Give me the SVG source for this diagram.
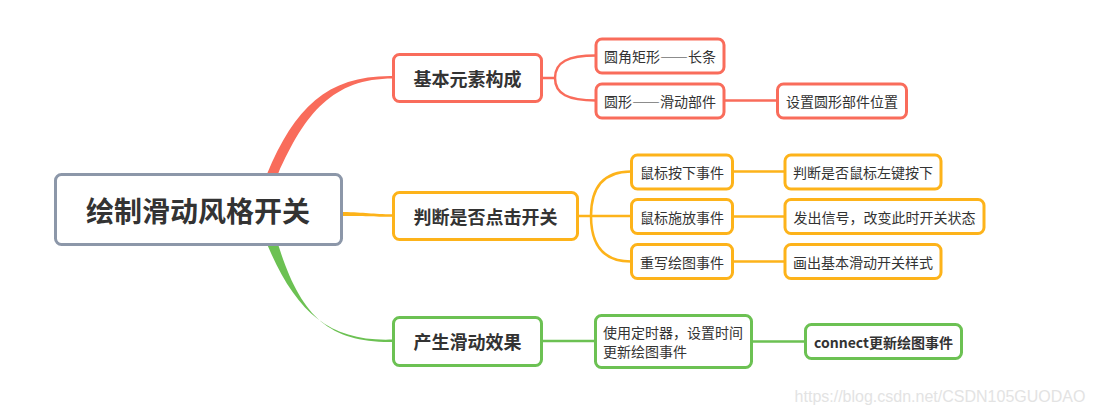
<svg xmlns="http://www.w3.org/2000/svg" width="1095" height="415" viewBox="0 0 1095 415">
<style>
text{font-family:"Noto Sans CJK SC","Noto Sans",sans-serif;fill:#333;text-anchor:middle;dominant-baseline:central}
.box{fill:#fff;stroke-width:3}
.r{stroke:#F96C5B}
.y{stroke:#FDB31A}
.g{stroke:#6CC153}
.line{fill:none;stroke-width:2.5}
.sub{font-size:14px}
.br{font-size:18px;font-weight:bold}
.fw{font-feature-settings:"fwid" 1}
</style>
<rect width="1095" height="415" fill="#fff"/>
<g id="connectors">
<path d="M267 174 C295 107 328 75 393 76 L393 78.5 C333 78.5 305 113 278 174 Z" fill="#F96C5B"/>
<path d="M343 212 C365 212.5 372 214 393 214.3 L393 216.8 C372 216.8 365 216 343 216 Z" fill="#FDB31A"/>
<path d="M267 244 C296 313 330 342 393 339.5 L393 342 C328 343 300 315 278 244 Z" fill="#6CC153"/>
<path class="line r" d="M542 78 H555 M555 78 C555 62 568 55.5 596 55.5 M555 78 C555 94 568 100.5 596 100.5 M724 100.5 H777"/>
<path class="line y" d="M578 216 H591 M591 216 C591 185 605 171.5 631 171.5 M591 216 H631 M591 216 C591 247 605 261.5 631 261.5 M733 171.5 H785 M733 216.5 H785 M733 261.5 H785"/>
<path class="line g" d="M542 341 H595 M752 341.5 H805"/>
</g>
<g id="root">
<rect x="55.5" y="174.5" width="286" height="70" rx="6" fill="#fff" stroke="#8C97A9" stroke-width="3"/>
<text x="198" y="210" font-size="28" font-weight="bold">绘制滑动风格开关</text>
</g>
<g id="b1">
<rect class="box r" x="393.5" y="54.5" width="148" height="47" rx="6"/>
<text class="br" x="467.5" y="78">基本元素构成</text>
</g>
<g id="b2">
<rect class="box y" x="393.5" y="192.5" width="184" height="47" rx="6"/>
<text class="br" x="485.5" y="216">判断是否点击开关</text>
</g>
<g id="b3">
<rect class="box g" x="393.5" y="317.5" width="148" height="48" rx="6"/>
<text class="br" x="467.5" y="341">产生滑动效果</text>
</g>
<g id="n11">
<rect class="box r" x="596" y="39" width="128" height="34" rx="6"/>
<text class="sub fw" x="660" y="56">圆角矩形——长条</text>
</g>
<g id="n12">
<rect class="box r" x="596" y="84" width="128" height="34" rx="6"/>
<text class="sub fw" x="660" y="101">圆形——滑动部件</text>
</g>
<g id="n121">
<rect class="box r" x="777.5" y="84" width="129" height="34" rx="6"/>
<text class="sub" x="842" y="101">设置圆形部件位置</text>
</g>
<g id="n21">
<rect class="box y" x="631.5" y="155" width="101" height="34" rx="6"/>
<text class="sub" x="682" y="172">鼠标按下事件</text>
</g>
<g id="n22">
<rect class="box y" x="631.5" y="199.5" width="101" height="34" rx="6"/>
<text class="sub" x="682" y="216.5">鼠标施放事件</text>
</g>
<g id="n23">
<rect class="box y" x="631.5" y="244.5" width="101" height="34" rx="6"/>
<text class="sub" x="682" y="261.5">重写绘图事件</text>
</g>
<g id="n211">
<rect class="box y" x="785" y="155" width="156" height="34" rx="6"/>
<text class="sub" x="863" y="172">判断是否鼠标左键按下</text>
</g>
<g id="n221">
<rect class="box y" x="785" y="199.5" width="199" height="34" rx="6"/>
<text class="sub" x="884.5" y="216.5">发出信号，改变此时开关状态</text>
</g>
<g id="n231">
<rect class="box y" x="785" y="244.5" width="156" height="34" rx="6"/>
<text class="sub" x="863" y="261.5">画出基本滑动开关样式</text>
</g>
<g id="n31">
<rect class="box g" x="595.5" y="315.5" width="156" height="52" rx="6"/>
<text class="sub" x="603" y="332" style="text-anchor:start">使用定时器，设置时间</text>
<text class="sub" x="603" y="351" style="text-anchor:start">更新绘图事件</text>
</g>
<g id="n311">
<rect class="box g" x="805.5" y="324.5" width="156" height="34" rx="6"/>
<text class="sub" x="883.5" y="341.5" font-weight="bold">connect更新绘图事件</text>
</g>
<text x="940" y="396" font-size="16" style="font-family:'Liberation Sans',sans-serif;fill:#e3e3e3">https://blog.csdn.net/CSDN105GUODAO</text>
</svg>
